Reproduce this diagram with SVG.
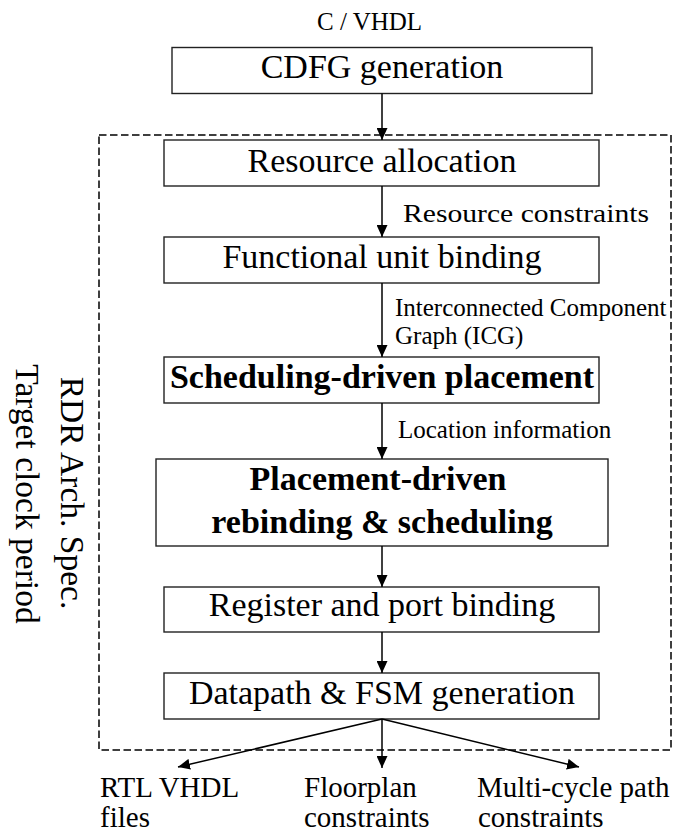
<svg xmlns="http://www.w3.org/2000/svg" width="679" height="834" viewBox="0 0 679 834" font-family="'Liberation Serif', 'Times New Roman', serif">
  <style>
    text { font-family: "Liberation Serif", "Times New Roman", serif; fill: #000; }
    .box { fill: #fff; stroke: #222; stroke-width: 1.4; }
    .step { font-size: 34px; text-anchor: middle; }
    .bold { font-weight: bold; }
    .lbl { font-size: 25px; }
    .out { font-size: 29px; }
    .side { font-size: 33.5px; text-anchor: middle; }
    .wire { fill: none; stroke: #000; stroke-width: 1.5; marker-end: url(#head); }
    .frame { fill: none; stroke: #000; stroke-width: 1.5; stroke-dasharray: 7.5 3.5; }
  </style>
  <defs>
    <marker id="head" markerUnits="userSpaceOnUse" markerWidth="12" markerHeight="11" refX="12" refY="5.5" orient="auto">
      <path d="M0,0 L12,5.5 L0,11 z" fill="#000"/>
    </marker>
  </defs>

  <!-- boundary of the RDR-aware synthesis loop -->
  <rect class="frame" x="99" y="135" width="572" height="615"/>

  <!-- side annotations -->
  <g id="side-notes">
    <text class="side" transform="translate(61,493) rotate(90)">RDR Arch. Spec.</text>
    <text class="side" transform="translate(16,494) rotate(90)">Target clock period</text>
  </g>

  <!-- input -->
  <g id="input">
    <text x="317" y="30" font-size="25">C / VHDL</text>
  </g>

  <!-- flow steps -->
  <g id="cdfg">
    <rect class="box" x="172" y="47.5" width="420" height="46"/>
    <text class="step" x="382" y="78">CDFG generation</text>
  </g>
  <g id="alloc">
    <rect class="box" x="164" y="140" width="435" height="46"/>
    <text class="step" x="382" y="172">Resource allocation</text>
  </g>
  <g id="fubind">
    <rect class="box" x="164" y="237" width="435" height="46"/>
    <text class="step" x="382" y="268">Functional unit binding</text>
  </g>
  <g id="sdp">
    <rect class="box" x="164" y="357" width="435" height="46"/>
    <text class="step bold" x="382" y="388">Scheduling-driven placement</text>
  </g>
  <g id="pdrs">
    <rect class="box" x="156" y="459" width="452" height="87"/>
    <text class="step bold" x="378" y="490">Placement-driven</text>
    <text class="step bold" x="382" y="533">rebinding &amp; scheduling</text>
  </g>
  <g id="regbind">
    <rect class="box" x="164" y="587" width="435" height="45"/>
    <text class="step" x="382" y="616">Register and port binding</text>
  </g>
  <g id="dpgen">
    <rect class="box" x="164" y="673" width="435" height="46"/>
    <text class="step" x="382" y="704">Datapath &amp; FSM generation</text>
  </g>

  <!-- outputs -->
  <g id="out-rtl">
    <text class="out" x="100" y="797">RTL VHDL</text>
    <text class="out" x="100" y="827">files</text>
  </g>
  <g id="out-floor">
    <text class="out" x="304" y="797">Floorplan</text>
    <text class="out" x="304" y="827">constraints</text>
  </g>
  <g id="out-mcp">
    <text class="out" x="477" y="797">Multi-cycle path</text>
    <text class="out" x="478" y="827">constraints</text>
  </g>

  <!-- connectors -->
  <g id="connectors">
    <line class="wire" x1="382" y1="93.5" x2="382" y2="140"/>
    <line class="wire" x1="382" y1="186" x2="382" y2="237"/>
    <line class="wire" x1="382" y1="283" x2="382" y2="357"/>
    <line class="wire" x1="382" y1="403" x2="382" y2="459"/>
    <line class="wire" x1="382" y1="546" x2="382" y2="587"/>
    <line class="wire" x1="382" y1="632" x2="382" y2="673"/>
    <line class="wire" x1="382" y1="719" x2="178" y2="767"/>
    <line class="wire" x1="382" y1="719" x2="382" y2="768"/>
    <line class="wire" x1="382" y1="719" x2="579" y2="767"/>
    <text class="lbl" x="403" y="222" font-size="26" textLength="246" lengthAdjust="spacingAndGlyphs">Resource constraints</text>
    <text class="lbl" x="395" y="316">Interconnected Component</text>
    <text class="lbl" x="395" y="344">Graph (ICG)</text>
    <text class="lbl" x="398" y="438">Location information</text>
  </g>
</svg>
